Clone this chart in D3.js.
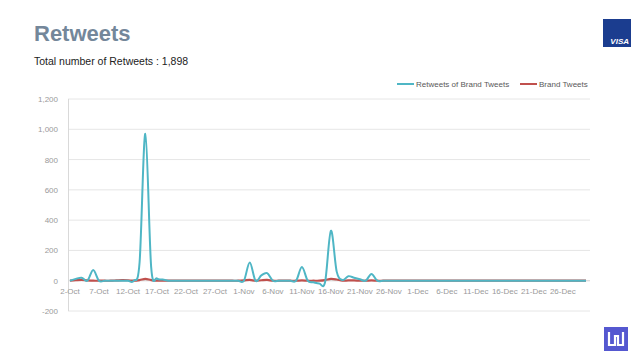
<!DOCTYPE html>
<html><head><meta charset="utf-8">
<script src="https://cdn.jsdelivr.net/npm/d3@7"></script>
<style>
html,body{margin:0;padding:0;background:#fff;}
svg{display:block;font-family:"Liberation Sans",Arial,sans-serif;}
</style></head>
<body><svg id="c" width="638" height="359"></svg>
<script>
const title = "Retweets";
const subtitle = "Total number of Retweets : 1,898";
const seriesNames = ["Retweets of Brand Tweets", "Brand Tweets"];
const dayCount = 90;
const xTickLabels = ["2-Oct","7-Oct","12-Oct","17-Oct","22-Oct","27-Oct","1-Nov","6-Nov","11-Nov","16-Nov","21-Nov","26-Nov","1-Dec","6-Dec","11-Dec","16-Dec","21-Dec","26-Dec"];
const yTicks = [-200, 0, 200, 400, 600, 800, 1000, 1200];
// one value per day starting 2-Oct
const retweetsOfBrand = [
 0,12,20,0,70,0,0,0,0,0,
 0,0,120,970,90,15,8,0,0,0,
 0,0,0,0,0,0,0,0,0,0,
 0,120,0,35,50,0,0,0,0,0,
 90,0,-10,-18,-8,330,60,5,30,20,
 10,0,45,0,0,0,0,0,0,0,
 0,0,0,0,0,0,0,0,0,0,
 0,0,0,0,0,0,0,0,0,0,
 0,0,0,0,0,0,0,0,0,0
];
const brandTweets = [
 0,3,5,2,0,0,0,0,2,4,
 3,0,4,12,4,0,0,0,0,0,
 0,0,0,0,0,0,0,0,0,0,
 2,5,0,3,5,0,0,0,0,0,
 2,0,0,0,4,12,8,0,2,2,
 0,0,2,0,0,0,0,0,0,0,
 0,0,0,0,0,0,0,0,0,0,
 0,0,0,0,0,0,0,0,0,0,
 0,0,0,0,0,0,0,0,0,0
];

const svg = d3.select("#c");
const colors = ["#4fb6c5", "#c0504d"];
const x = d3.scaleLinear().domain([0, dayCount - 1]).range([70, 586]);
const y = d3.scaleLinear().domain([-200, 1200]).range([311, 99]);

svg.append("text").attr("x", 34).attr("y", 41).attr("font-size", 22).attr("font-weight", "bold")
  .attr("fill", "#74879a").text(title);
svg.append("text").attr("x", 34).attr("y", 65).attr("font-size", 10.5)
  .attr("fill", "#222").text(subtitle);

svg.append("g").selectAll("line").data(yTicks).join("line")
  .attr("x1", 68).attr("x2", 590).attr("y1", d => y(d)).attr("y2", d => y(d))
  .attr("stroke", "#e6e6e6").attr("stroke-width", 1);
svg.append("line").attr("x1", 68.5).attr("x2", 68.5).attr("y1", y(1200)).attr("y2", y(-200))
  .attr("stroke", "#d9d9d9");
svg.append("line").attr("x1", 68).attr("x2", 590).attr("y1", y(0)).attr("y2", y(0))
  .attr("stroke", "#d9d9d9");

svg.append("g").selectAll("text").data(yTicks).join("text")
  .attr("x", 58).attr("y", d => y(d) + 3).attr("text-anchor", "end")
  .attr("font-size", 8).attr("fill", "#9a9a9a")
  .text(d => d3.format(",")(d).replace("−", "-"));

svg.append("g").selectAll("text").data(xTickLabels).join("text")
  .attr("x", (d, i) => x(i * 5)).attr("y", y(0) + 13).attr("text-anchor", "middle")
  .attr("font-size", 8).attr("fill", "#9a9a9a").text(d => d);

const line = d3.line().x((d, i) => x(i)).y(d => y(d)).curve(d3.curveCardinal.tension(0));
svg.append("path").datum(brandTweets).attr("d", line).attr("fill", "none")
  .attr("stroke", colors[1]).attr("stroke-width", 2.2);
svg.append("path").datum(retweetsOfBrand).attr("d", line).attr("fill", "none")
  .attr("stroke", colors[0]).attr("stroke-width", 2);

const legendX = [397, 520];
seriesNames.forEach((n, i) => {
  svg.append("line").attr("x1", legendX[i]).attr("x2", legendX[i] + 17).attr("y1", 84).attr("y2", 84)
    .attr("stroke", colors[i]).attr("stroke-width", 2);
  svg.append("text").attr("x", legendX[i] + 19).attr("y", 87).attr("font-size", 8)
    .attr("fill", "#595959").text(n);
});

svg.append("rect").attr("x", 603).attr("y", 19).attr("width", 28).attr("height", 28).attr("fill", "#1b3d8f");
svg.append("text").attr("x", 629).attr("y", 44).attr("text-anchor", "end").attr("font-size", 8)
  .attr("font-weight", "bold").attr("font-style", "italic").attr("fill", "#fff").text("VISA");

svg.append("rect").attr("x", 604).attr("y", 327).attr("width", 24).attr("height", 24).attr("fill", "#5558d0");
svg.append("path").attr("d", "M609 332 v13 h6 v-9 h3 v9 h5 v-13")
  .attr("fill", "none").attr("stroke", "#fff").attr("stroke-width", 2.2);
</script></body></html>
